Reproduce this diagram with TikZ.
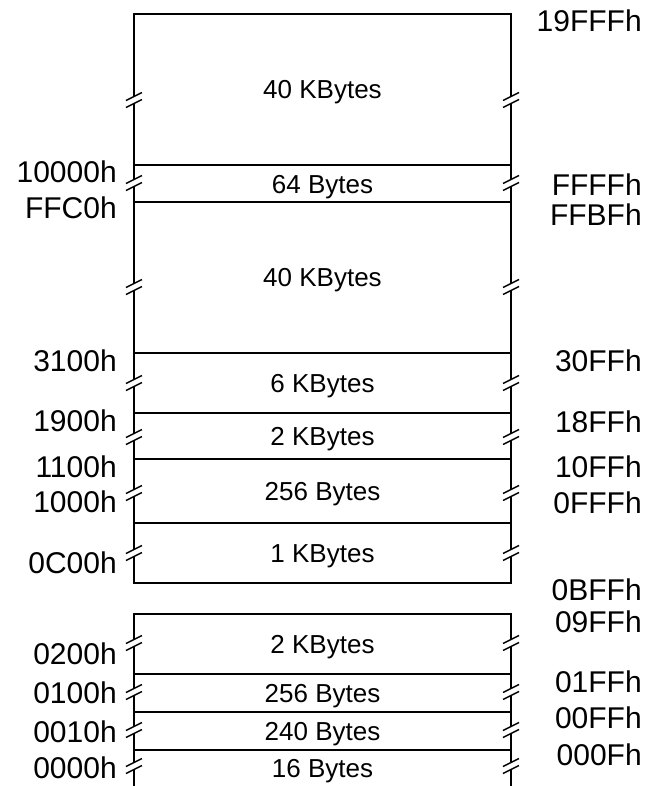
\documentclass[tikz,border=0pt]{standalone}
\usepackage{fontspec}
\setmainfont{Liberation Sans}
\usetikzlibrary{positioning}

\begin{document}
\begin{tikzpicture}[
    x=0.75pt, y=-0.75pt,
    wall/.style={line width=1.2pt},
    brk/.style={line width=1.1pt},
    addr/.style={anchor=east, inner sep=0pt, font=\fontsize{22.5}{26}\selectfont, text height=16.3pt, text depth=0pt},
    size/.style={inner sep=0pt, font=\fontsize{19.5}{23}\selectfont, text height=14pt, text depth=0pt}
]
    \useasboundingbox (0,0) rectangle (646,786);
    % upper block and its dividers
    \draw[wall] (134,14) rectangle (511,583);
    \foreach \y in {165,202,353,413,459,523}
        \draw[wall] (134,\y) -- (511,\y);
    % lower block, open at the bottom
    \draw[wall] (134,786) -- (134,614) -- (511,614) -- (511,786);
    \foreach \y in {674,712,750}
        \draw[wall] (134,\y) -- (511,\y);
    % break marks on both walls
    \foreach \y in {100,183,287,383,437,493,553,643,692,730,766}
        \foreach \x in {134,511} {
            \fill[white] (\x-8,\y+7.5) -- (\x+8,\y-0.5) -- (\x+8,\y-7.5) -- (\x-8,\y+0.5) -- cycle;
            \draw[brk] (\x-8,\y+7.5) -- (\x+8,\y-0.5);
            \draw[brk] (\x-8,\y+0.5) -- (\x+8,\y-7.5);
        }
    % sizes
    \node[size] (s1) at (322.5,89.5) {40 KBytes};
    \node[size] (s2) at (322.5,184) {64 Bytes};
    \node[size] (s3) at (322.5,277.5) {40 KBytes};
    \node[size] (s4) at (322.5,383) {6 KBytes};
    \node[size] (s5) at (322.5,436) {2 KBytes};
    \node[size] (s6) at (322.5,491) {256 Bytes};
    \node[size] (s7) at (322.5,553) {1 KBytes};
    \node[size] (s8) at (322.5,644) {2 KBytes};
    \node[size] (s9) at (322.5,693) {256 Bytes};
    \node[size] (s10) at (322.5,731) {240 Bytes};
    \node[size] (s11) at (322.5,768) {16 Bytes};
    % start addresses
    \node[addr] (a10000) at (117,172) {10000h};
    \node[addr] (aFFC0) at (117,208) {FFC0h};
    \node[addr] (a3100) at (117,361) {3100h};
    \node[addr] (a1900) at (117,421) {1900h};
    \node[addr] (a1100) at (117,467) {1100h};
    \node[addr] (a1000) at (117,502) {1000h};
    \node[addr] (a0C00) at (117,563) {0C00h};
    \node[addr] (a0200) at (117,654) {0200h};
    \node[addr] (a0100) at (117,693) {0100h};
    \node[addr] (a0010) at (117,732) {0010h};
    \node[addr] (a0000) at (117,768) {0000h};
    % end addresses
    \node[addr] (e19FFF) at (642,21) {19FFFh};
    \node[addr] (eFFFF) at (642,185) {FFFFh};
    \node[addr] (eFFBF) at (642,215) {FFBFh};
    \node[addr] (e30FF) at (642,361) {30FFh};
    \node[addr] (e18FF) at (642,422) {18FFh};
    \node[addr] (e10FF) at (642,467) {10FFh};
    \node[addr] (e0FFF) at (642,503) {0FFFh};
    \node[addr] (e0BFF) at (642,590) {0BFFh};
    \node[addr] (e09FF) at (642,622) {09FFh};
    \node[addr] (e01FF) at (642,682) {01FFh};
    \node[addr] (e00FF) at (642,718) {00FFh};
    \node[addr] (e000F) at (642,755) {000Fh};
\end{tikzpicture}
\end{document}
